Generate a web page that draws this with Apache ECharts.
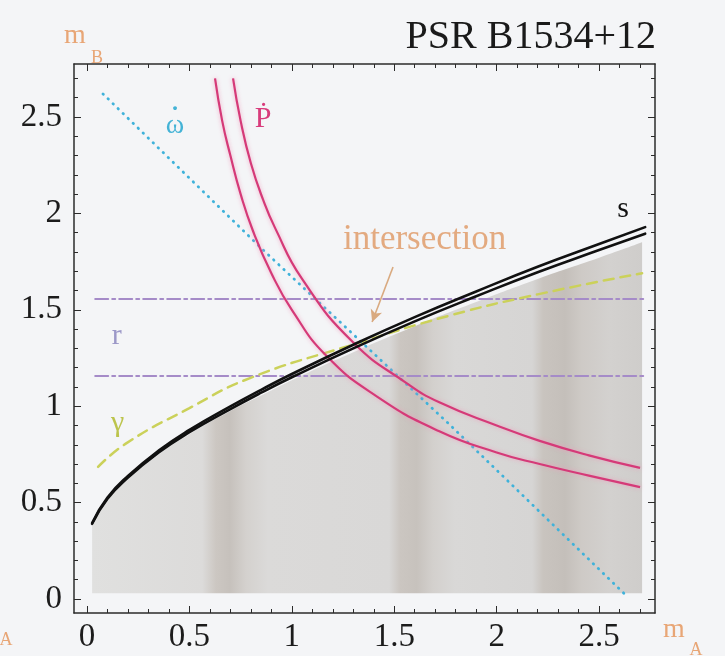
<!DOCTYPE html>
<html>
<head>
<meta charset="utf-8">
<title>PSR B1534+12</title>
<script src="https://cdn.jsdelivr.net/npm/echarts@6.0.0/dist/echarts.min.js"></script>
<style>
html, body { margin: 0; padding: 0; background: #f4f5f7; }
#chart { width: 725px; height: 656px; }
</style>
</head>
<body>
<div id="chart"></div>
<script>
// s : two bounds of the shape curve
var sX    = [0.025, 0.1, 0.2, 0.35, 0.5, 0.7, 0.85, 1.0, 1.3, 1.6, 1.9, 2.2, 2.5, 2.725];
var sLow  = [0.39, 0.52, 0.63, 0.76, 0.865, 0.985, 1.07, 1.15, 1.30, 1.44, 1.57, 1.695, 1.81, 1.895];
var sHigh = [0.394, 0.526, 0.638, 0.77, 0.877, 0.999, 1.085, 1.167, 1.319, 1.462, 1.595, 1.723, 1.841, 1.929];

// grey excluded region under s
var shadeX    = [0.025, 0.1, 0.2, 0.35, 0.5, 0.7, 0.85, 1.0, 1.3, 1.6, 1.9, 2.2, 2.5, 2.71];
var shadeTop  = [0.38, 0.51, 0.62, 0.75, 0.855, 0.975, 1.055, 1.135, 1.28, 1.415, 1.54, 1.66, 1.77, 1.85];
var shadeBase = 0.03;

// gamma (dashed)
var gammaX = [0.054, 0.195, 0.5, 0.796, 1.3, 1.77, 2.2, 2.71];
var gammaY = [0.685, 0.81, 0.99, 1.146, 1.32, 1.47, 1.58, 1.69];

// omega dot (dotted)
var omegaX = [0.078, 0.86, 1.77, 2.64];
var omegaY = [2.62, 1.81, 0.905, 0.01];

// P dot : two bounds
var pdotLowX  = [0.625, 0.66, 0.7, 0.75, 0.81, 0.9, 1.0, 1.17, 1.416, 1.72, 2.0, 2.21, 2.45, 2.70];
var pdotLowY  = [2.70, 2.48, 2.30, 2.10, 1.91, 1.69, 1.50, 1.26, 1.05, 0.87, 0.76, 0.70, 0.64, 0.58];
var pdotHighX = [0.713, 0.75, 0.8, 0.86, 0.918, 1.05, 1.3, 1.56, 1.72, 2.0, 2.21, 2.45, 2.70];
var pdotHighY = [2.70, 2.48, 2.26, 2.07, 1.925, 1.66, 1.33, 1.12, 1.02, 0.90, 0.82, 0.745, 0.68];

// r : two horizontal bounds
var rLevels = [1.556, 1.157];
var rRange  = [0.04, 2.72];

// ticks
var xTicks = [0, 0.5, 1, 1.5, 2, 2.5];
var yTicks = [0, 0.5, 1, 1.5, 2, 2.5];
var minorTicks = [0, 0.1, 0.2, 0.3, 0.4, 0.5, 0.6, 0.7, 0.8, 0.9, 1, 1.1, 1.2, 1.3, 1.4,
                  1.5, 1.6, 1.7, 1.8, 1.9, 2, 2.1, 2.2, 2.3, 2.4, 2.5, 2.6, 2.7];

// "intersection" arrow
var arrowFrom = [1.494, 1.722];
var arrowTo   = [1.392, 1.437];

function zip(xs, ys) {
  return xs.map(function (x, i) { return [x, ys[i]]; });
}

var SERIF = "'Liberation Serif', 'DejaVu Serif', serif";
var FRAME = '#2b2b2b';

function frameAxis(position, ticks, len, withLine, withLabel, range) {
  return {
    type: 'value',
    position: position,
    min: range[0],
    max: range[1],
    axisLine: { show: withLine, onZero: false, lineStyle: { color: FRAME, width: 1.5 } },
    axisTick: { show: true, inside: true, length: len, customValues: ticks,
                lineStyle: { color: FRAME, width: 1 } },
    axisLabel: withLabel ? {
      show: true, customValues: ticks, margin: position === 'bottom' ? 8 : 12,
      fontSize: 33, fontFamily: SERIF, color: '#1c1c1c'
    } : { show: false },
    splitLine: { show: false }
  };
}

var xRange = [-0.0635, 2.773];
var yRange = [-0.0726, 2.775];

var myChart = echarts.init(document.getElementById('chart'));

function line(data, color, width, type, extra) {
  var s = {
    type: 'line',
    data: data,
    symbol: 'none',
    silent: true,
    smooth: 0.5,
    lineStyle: { color: color, width: width, type: type, cap: 'round' },
    z: 3
  };
  for (var k in extra) s[k] = extra[k];
  return s;
}

var pinkLine = { color: '#d53a78', width: 2.2, shadowColor: 'rgba(240,150,185,0.8)', shadowBlur: 4 };

myChart.setOption({
  backgroundColor: '#f4f5f7',
  animation: false,
  grid: { left: 74, right: 70, top: 64, bottom: 43 },
  xAxis: [
    frameAxis('bottom', xTicks, 7, true, true, xRange),
    frameAxis('bottom', minorTicks, 4, false, false, xRange),
    frameAxis('top', xTicks, 7, true, false, xRange),
    frameAxis('top', minorTicks, 4, false, false, xRange)
  ],
  yAxis: [
    frameAxis('left', yTicks, 7, true, true, yRange),
    frameAxis('left', minorTicks, 4, false, false, yRange),
    frameAxis('right', yTicks, 7, true, false, yRange),
    frameAxis('right', minorTicks, 4, false, false, yRange)
  ],
  series: [
    {
      type: 'line',
      data: zip(shadeX, shadeTop),
      symbol: 'none',
      silent: true,
      smooth: 0.5,
      lineStyle: { width: 0 },
      areaStyle: {
        opacity: 1,
        origin: shadeBase,
        color: new echarts.graphic.LinearGradient(0, 0, 1, 0, [
          { offset: 0, color: '#e0e0df' },
          { offset: 0.20, color: '#dcdbda' },
          { offset: 0.225, color: '#ccc7c2' },
          { offset: 0.25, color: '#c6c1bc' },
          { offset: 0.28, color: '#d4d1ce' },
          { offset: 0.32, color: '#dbdad9' },
          { offset: 0.54, color: '#d9d8d7' },
          { offset: 0.56, color: '#cbc6c1' },
          { offset: 0.59, color: '#c7c2bd' },
          { offset: 0.62, color: '#d3d0cd' },
          { offset: 0.66, color: '#d9d8d7' },
          { offset: 0.80, color: '#d6d5d4' },
          { offset: 0.82, color: '#c9c4bf' },
          { offset: 0.86, color: '#c4bfba' },
          { offset: 0.89, color: '#cecac6' },
          { offset: 0.94, color: '#d3d1cf' },
          { offset: 1, color: '#cfcdcb' }
        ])
      },
      z: 1
    },
    line([[rRange[0], rLevels[0]], [rRange[1], rLevels[0]]], '#a58bc8', 2, [13, 4, 3, 4], { smooth: false }),
    line([[rRange[0], rLevels[1]], [rRange[1], rLevels[1]]], '#a58bc8', 2, [13, 4, 3, 4], { smooth: false }),
    line(zip(gammaX, gammaY), '#cbd15a', 2.5, [10, 7], {}),
    line(zip(omegaX, omegaY), '#3fb2da', 2.8, [0.5, 6.5], { smooth: false }),
    line(zip(pdotLowX, pdotLowY), '#d53a78', 2.2, 'solid', { lineStyle: pinkLine }),
    line(zip(pdotHighX, pdotHighY), '#d53a78', 2.2, 'solid', { lineStyle: pinkLine }),
    line(zip(sX, sLow), '#111111', 2.6, 'solid', { z: 4 }),
    line(zip(sX, sHigh), '#111111', 2.6, 'solid', { z: 4 }),
    {
      type: 'line',
      data: [],
      silent: true,
      markLine: {
        silent: true,
        symbol: ['none', 'arrow'],
        symbolSize: [9, 12],
        label: { show: false },
        lineStyle: { color: '#d9aa80', width: 1.6, type: 'solid' },
        data: [[{ coord: arrowFrom }, { coord: arrowTo }]]
      },
      z: 5
    }
  ]
});

// labels placed at data positions
var labels = [
  { text: 'ω', at: [0.43, 2.455], color: '#44b3d6', size: 28 },
  { text: '˙', at: [0.43, 2.48], color: '#44b3d6', size: 36 },
  { text: 'Ṗ', at: [0.86, 2.49], color: '#d83c7c', size: 30 },
  { text: 'r', at: [0.145, 1.365], color: '#9c98c8', size: 30 },
  { text: 'γ', at: [0.15, 0.91], color: '#bcc44c', size: 30 },
  { text: 's', at: [2.617, 2.02], color: '#111111', size: 30 },
  { text: 'intersection', at: [1.648, 1.865], color: '#e3aa80', size: 35 }
];

var graphics = labels.map(function (l) {
  var p = myChart.convertToPixel({ seriesIndex: 0 }, l.at);
  return {
    type: 'text', x: p[0], y: p[1], silent: true,
    style: { text: l.text, fill: l.color, font: l.size + 'px ' + SERIF,
             textAlign: 'center', textVerticalAlign: 'middle' }
  };
});

graphics.push(
  { type: 'text', x: 656, y: 37, style: { text: 'PSR B1534+12', fill: '#1a1a1a',
    font: '40px ' + SERIF, textAlign: 'right', textVerticalAlign: 'middle' } },
  { type: 'text', x: 75, y: 36, style: { text: 'm', fill: '#e8a676',
    font: '28px ' + SERIF, textAlign: 'center', textVerticalAlign: 'middle' } },
  { type: 'text', x: 97, y: 58, style: { text: 'B', fill: '#e8a676',
    font: '18px ' + SERIF, textAlign: 'center', textVerticalAlign: 'middle' } },
  { type: 'text', x: 674, y: 630, style: { text: 'm', fill: '#e8a676',
    font: '28px ' + SERIF, textAlign: 'center', textVerticalAlign: 'middle' } },
  { type: 'text', x: 696, y: 650, style: { text: 'A', fill: '#e8a676',
    font: '18px ' + SERIF, textAlign: 'center', textVerticalAlign: 'middle' } },
  { type: 'text', x: 6, y: 640, style: { text: 'A', fill: '#e8a676',
    font: '18px ' + SERIF, textAlign: 'center', textVerticalAlign: 'middle' } }
);

myChart.setOption({ graphic: graphics });
</script>
</body>
</html>
